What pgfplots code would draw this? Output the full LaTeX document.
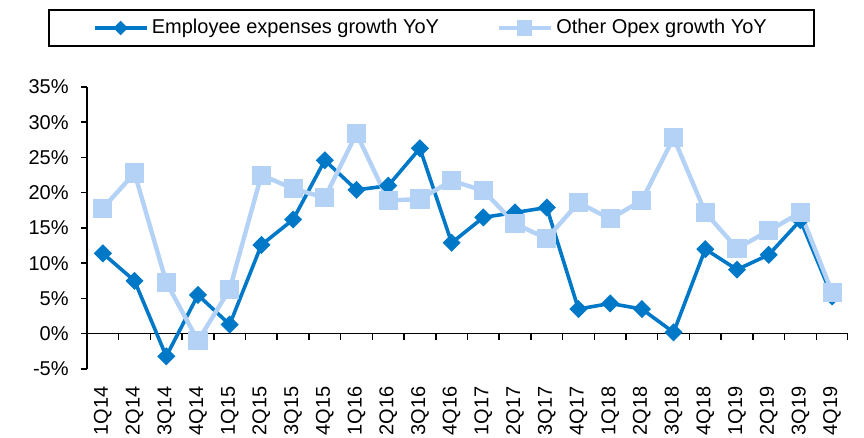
\documentclass[border=0pt]{standalone}
\usepackage{fontspec}
\setmainfont{Liberation Sans}
\usepackage{pgfplots}
\pgfplotsset{compat=1.18}
\definecolor{empblue}{RGB}{0,120,200}
\definecolor{opexblue}{RGB}{180,210,245}

\begin{document}
\begin{tikzpicture}
\begin{axis}[
    at={(0,0)}, anchor=south west,
    scale only axis,
    width=380.5pt, height=141pt,
    xmin=-0.5, xmax=23.5,
    ymin=-5, ymax=35,
    axis lines*=left,
    x axis line style={draw=none},
    y axis line style={line width=0.75pt, black},
    tick align=outside,
    xtick={0,...,23},
    xticklabels={1Q14,2Q14,3Q14,4Q14,1Q15,2Q15,3Q15,4Q15,1Q16,2Q16,3Q16,4Q16,
                 1Q17,2Q17,3Q17,4Q17,1Q18,2Q18,3Q18,4Q18,1Q19,2Q19,3Q19,4Q19},
    xtick style={draw=none},
    xticklabel style={rotate=90, anchor=east, inner sep=0pt},
    xticklabel shift=5.5pt,
    ytick={-5,0,...,35},
    ytick style={line width=0.75pt, black},
    major tick length=3pt,
    yticklabel={\pgfmathprintnumber{\tick}\%},
    yticklabel style={inner sep=0pt},
    yticklabel shift=6pt,
    /pgf/number format/assume math mode=true,
    legend columns=2,
    legend style={
        at={(0.4527,1)}, anchor=center, yshift=29.5pt,
        draw=black, line width=0.75pt,
        inner xsep=22pt, inner ysep=3pt,
        nodes={inner sep=1.7pt},
        /tikz/every even column/.append style={column sep=27pt},
    },
    legend image code/.code={
        \draw[mark repeat=2, mark phase=2,
              /tikz/every mark/.append style={scale=0.72}]
            plot coordinates {(0pt,0pt) (13pt,0pt) (26pt,0pt)};
    },
]
\draw[line width=0.75pt, black] (axis cs:-0.5,0) -- (axis cs:23.5,0);
\foreach \i in {0.5,1.5,...,23.5} {
    \edef\temp{\noexpand\draw[line width=0.75pt, black] (axis cs:\i,0) -- ++(0pt,-3pt);}
    \temp
}

\addplot[color=empblue, line width=1.8pt, mark=square*,
         mark size=2.3pt, mark options={rotate=45, solid}]
coordinates {
    (0,11.4) (1,7.5) (2,-3.2) (3,5.5) (4,1.3) (5,12.6) (6,16.2) (7,24.6)
    (8,20.4) (9,21.0) (10,26.3) (11,12.9) (12,16.5) (13,17.2) (14,17.9) (15,3.5)
    (16,4.3) (17,3.5) (18,0.2) (19,12.0) (20,9.1) (21,11.2) (22,16.1) (23,5.3)
};
\addlegendentry{Employee expenses growth YoY}

\addplot[color=opexblue, line width=2.2pt, mark=square*,
         mark size=3.7pt, mark options={solid}]
coordinates {
    (0,17.8) (1,22.8) (2,7.3) (3,-1.0) (4,6.3) (5,22.5) (6,20.6) (7,19.3)
    (8,28.4) (9,18.9) (10,19.1) (11,21.7) (12,20.3) (13,15.6) (14,13.5) (15,18.6)
    (16,16.3) (17,18.9) (18,27.8) (19,17.2) (20,12.1) (21,14.6) (22,17.2) (23,5.9)
};
\addlegendentry{Other Opex growth YoY}
\end{axis}
\pgfresetboundingbox
\useasboundingbox (-43.5pt,-34.5pt) rectangle (388.5pt,184.5pt);
\end{tikzpicture}
\end{document}
